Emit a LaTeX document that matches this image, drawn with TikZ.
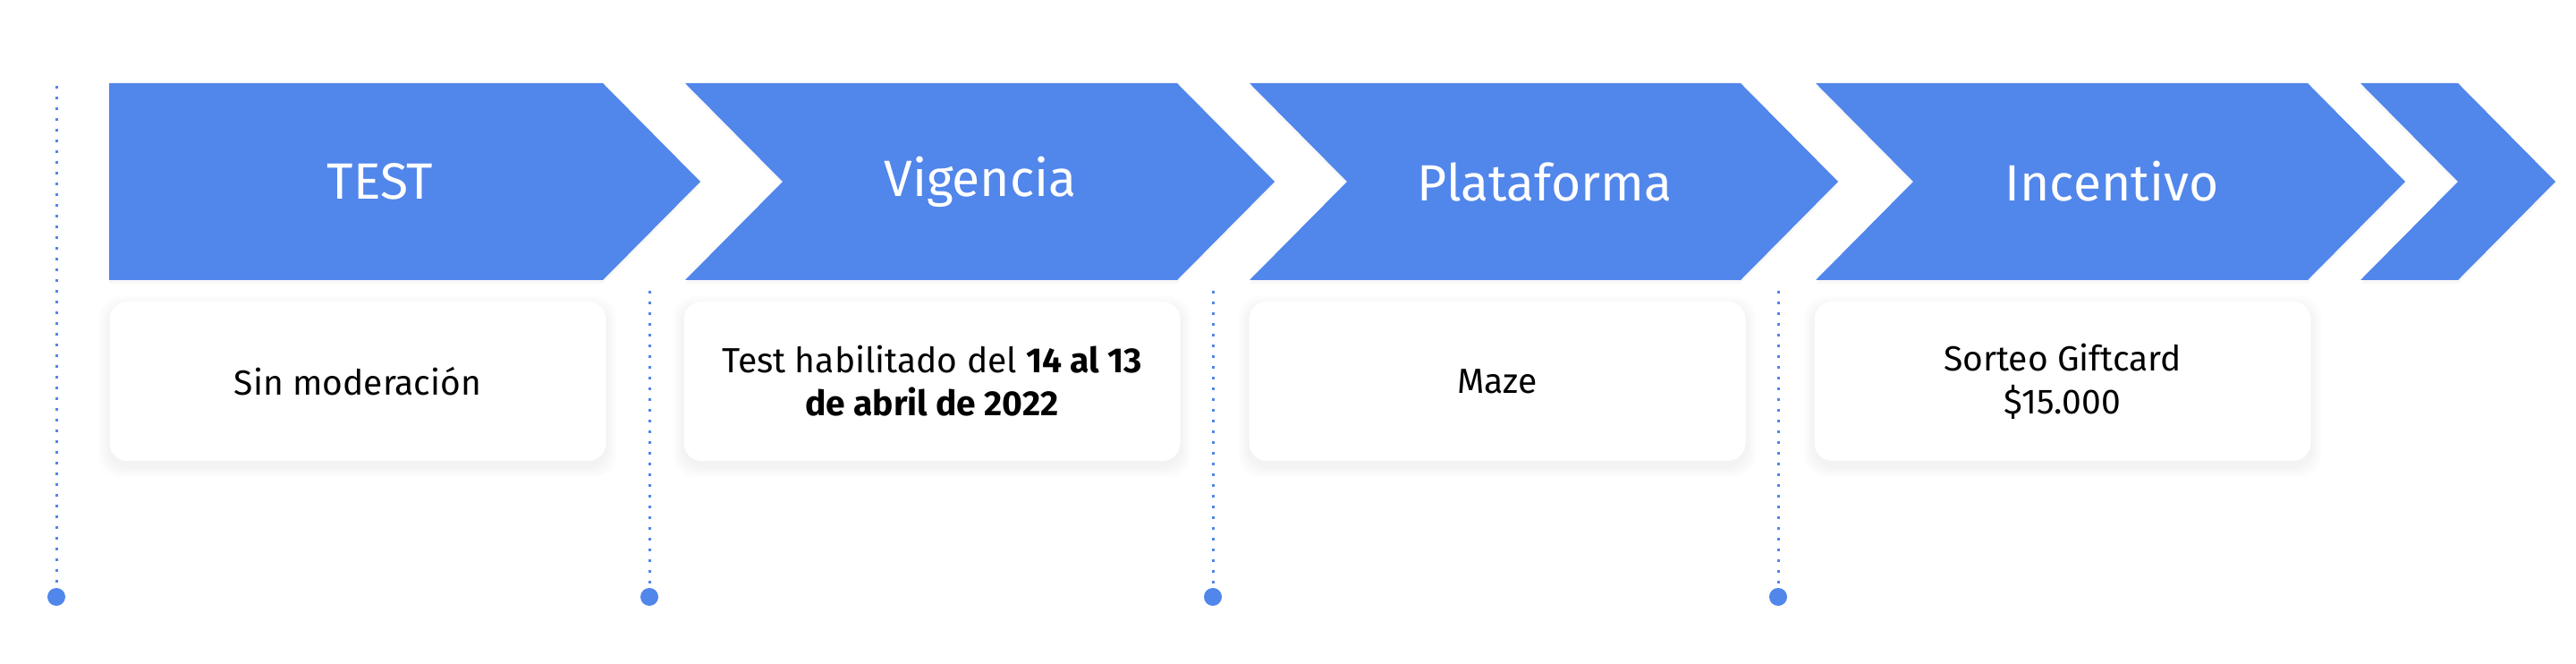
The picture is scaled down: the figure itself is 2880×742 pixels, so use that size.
\documentclass[tikz,border=0pt]{standalone}
\usepackage{fontspec}
\setmainfont{Fira Sans}
\usetikzlibrary{shadows}
\definecolor{B}{RGB}{81,134,235}
\newcommand{\drawchevron}[2]{\fill[B,drop shadow={opacity=0.06,shadow xshift=0pt,shadow yshift=-2pt}] (#1,93)--(#2,93)--(#2+109,203)--(#2,313)--(#1,313)--(#1+109,203)--cycle;}
\newcommand{\steptitle}[3]{\node[titletext] (#1) at (#2,203) {#3};}
\newcommand{\stepcard}[3]{
    \foreach \s in {2,4,...,12}{
    \fill[black,opacity=0.008,rounded corners=12pt] (#1-277.5-\s,337-\s+6) rectangle (#1+277.5+\s,515+\s+6);
    }
    \node[card] (#2) at (#1,426) {#3};
}
\tikzset{
    titletext/.style={text=white,font=\fontsize{28.5}{34}\selectfont,inner sep=0pt},
    card/.style={fill=white,rounded corners=10pt,minimum width=277.5pt,minimum height=89pt,align=center,font=\fontsize{19.5}{24}\selectfont,inner sep=0pt},
    dot/.style={circle,fill=B,inner sep=0pt,minimum size=10pt},
    dotline/.style={B,line width=1.5pt,dash pattern=on 1.5pt off 4.5pt}
}

\begin{document}
\begin{tikzpicture}[x=0.5pt,y=-0.5pt]
\useasboundingbox (0,0) rectangle (2880,742);
\fill[B,drop shadow={opacity=0.06,shadow xshift=0pt,shadow yshift=-2pt}] (122,93)--(674,93)--(783,203)--(674,313)--(122,313)--cycle;
    \drawchevron{766}{1316}
    \drawchevron{1397}{1946}
    \drawchevron{2030}{2580}
    \drawchevron{2639}{2748}
\steptitle{test}{425}{TEST}\steptitle{vigencia}{1096}{Vigencia}\steptitle{plataforma}{1727}{Plataforma}\steptitle{incentivo}{2361}{Incentivo}
\stepcard{400}{moderacion}{Sin moderación}
\stepcard{1042}{fechas}{Test habilitado del \textbf{14 al 13}\\\textbf{de abril de 2022}}
\stepcard{1674}{maze}{Maze}
\stepcard{2306}{giftcard}{Sorteo Giftcard\\\$15.000}
\foreach \x/\t [count=\i] in {63/96,726/325,1356/325,1988/325}{
    \coordinate (top\i) at (\x,\t);
    \node[dot] (dot\i) at (\x,667) {};
    \draw[dotline] (top\i)--(dot\i);
}
\end{tikzpicture}
\end{document}
